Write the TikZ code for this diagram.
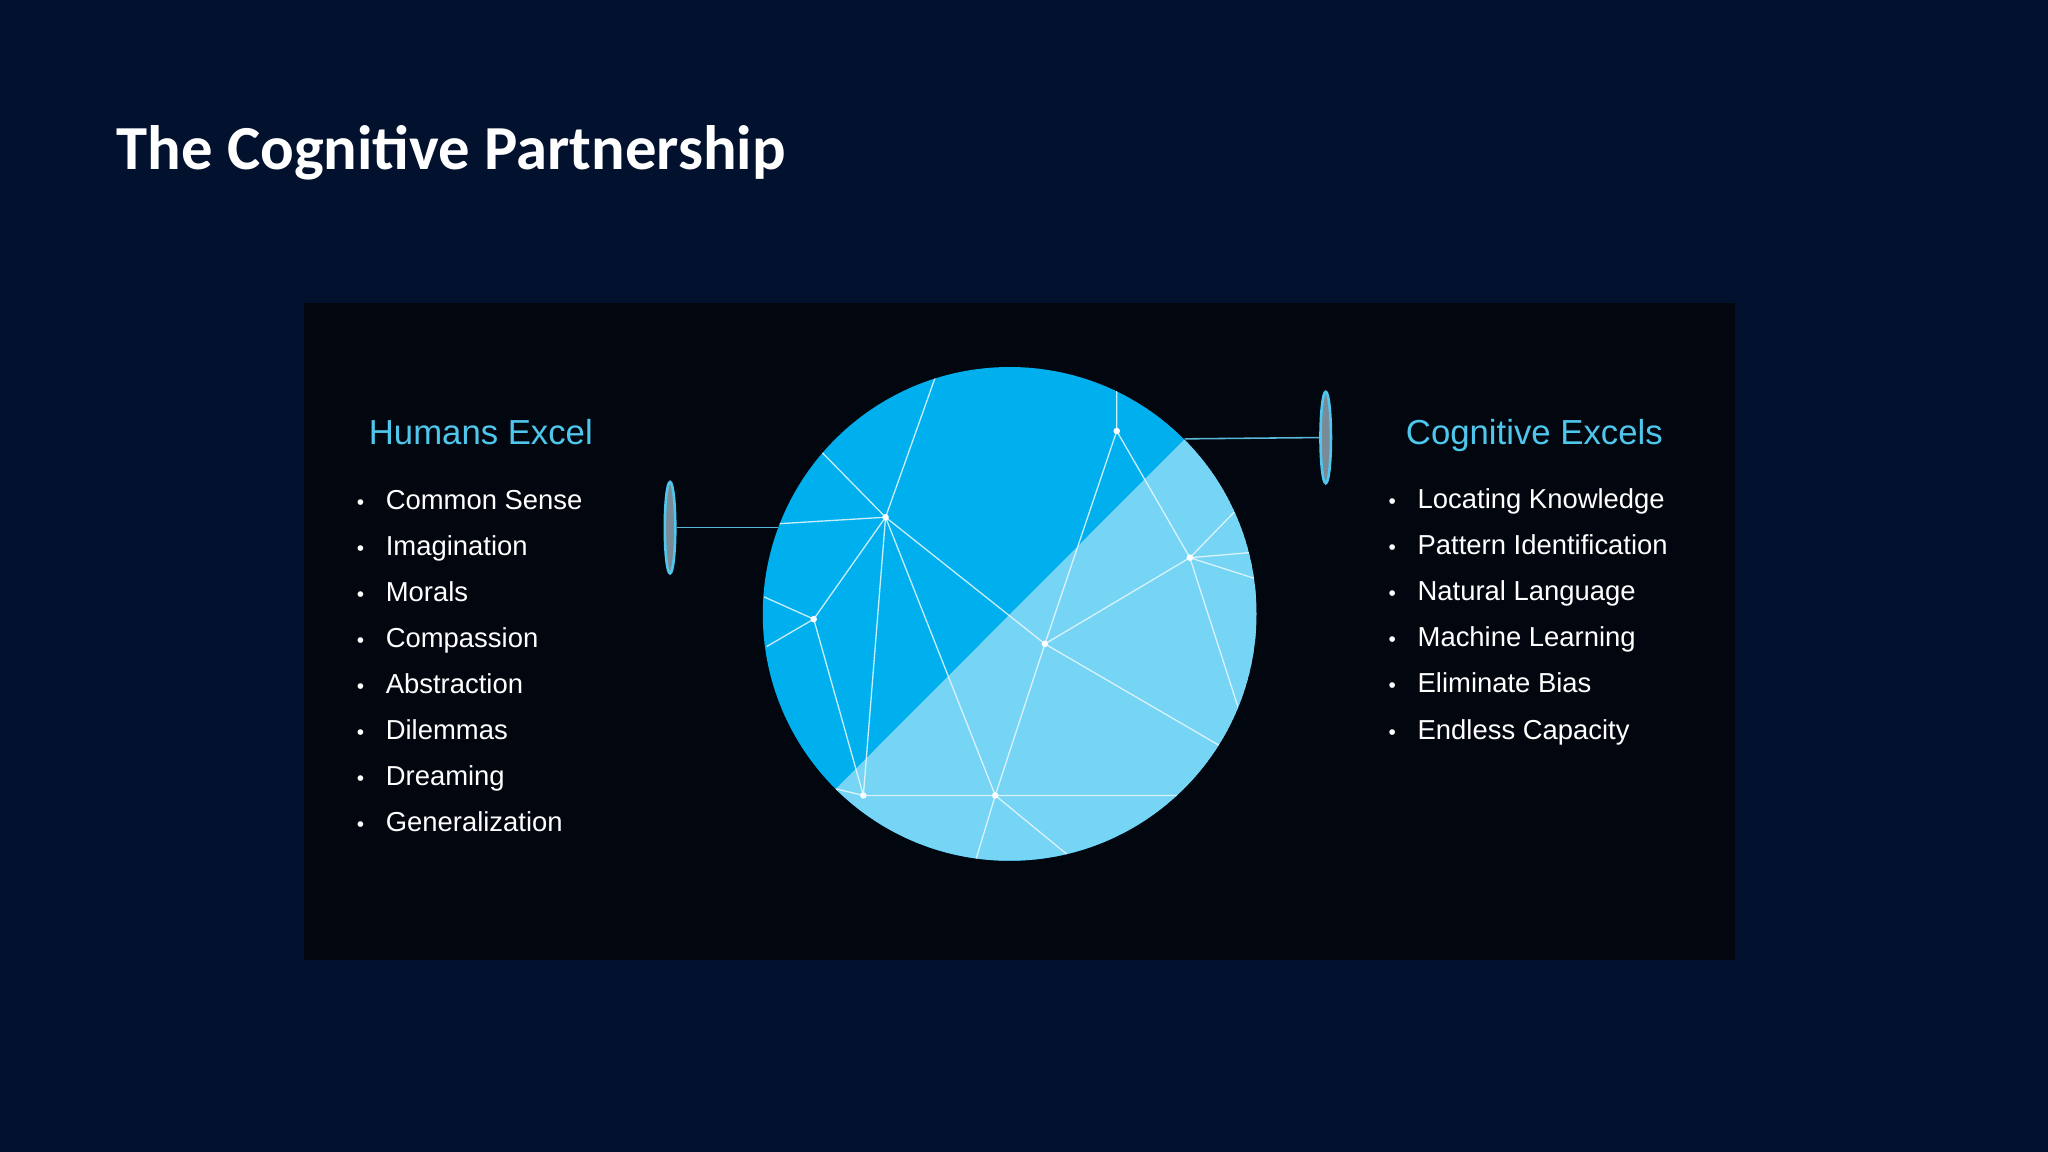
\documentclass[tikz,border=0pt]{standalone}
\usepackage{fontspec}
\setmainfont{Liberation Sans}
\newfontfamily\titlefont{Carlito}
\usetikzlibrary{shapes.geometric}
\definecolor{bgnavy}{HTML}{01112E}
\definecolor{panel}{HTML}{02060F}
\definecolor{darkc}{HTML}{00B0EE}
\definecolor{lightc}{HTML}{76D4F4}
\definecolor{headc}{HTML}{4FC6EC}
\definecolor{pinfill}{HTML}{7A8A96}
\tikzset{
 mesh/.style={draw=white!85!lightc,line width=0.5pt,opacity=0.85},
 dotnode/.style={circle,fill=white,inner sep=0pt,minimum size=2.5pt},
 item/.style={anchor=base west,text=white,font=\fontsize{10.5}{12}\selectfont,inner sep=0pt},
 bull/.style={anchor=base,text=white,font=\fontsize{8}{10}\selectfont,inner sep=0pt},
 head/.style={anchor=base west,text=headc,font=\fontsize{13.3}{15}\selectfont,inner sep=0pt},
 pin/.style={ellipse,draw=headc,line width=1pt,fill=pinfill,minimum width=4pt,minimum height=35pt,inner sep=0pt},
 pinline/.style={draw=headc!80!gray,line width=0.6pt}
}
\begin{document}
\begin{tikzpicture}[x=0.5pt,y=-0.5pt]
\fill[bgnavy] (0,0) rectangle (1568,882);
\useasboundingbox (0,0) rectangle (1568,882);
\node[anchor=base west,text=white,font=\titlefont\bfseries\fontsize{24}{28}\selectfont,inner sep=0pt] (title) at (89,130) {The Cognitive Partnership};
\fill[panel] (233,232) rectangle (1328,735);
% circle
\coordinate (c) at (773,470);
\begin{scope}
\clip (c) circle (189);
\fill[darkc] (c) circle (189);
\fill[lightc] (560,684) -- (987,256) -- (1000,700) -- cycle;
\coordinate (e1) at (716,289); \coordinate (e2) at (628,345); \coordinate (e3) at (596,401);
\coordinate (e4) at (585,457); \coordinate (e5) at (587,495); \coordinate (e6) at (855,290);
\coordinate (e7) at (945,392); \coordinate (e8) at (958,423); \coordinate (e9) at (961,443);
\coordinate (e10) at (950,548); \coordinate (e11) at (934,571); \coordinate (e12) at (905,609);
\coordinate (e13) at (746,662); \coordinate (e14) at (818,655); \coordinate (e15) at (640,604);
\coordinate (n1) at (678,396); \coordinate (n2) at (623,474); \coordinate (n3) at (855,330);
\coordinate (n4) at (911,427); \coordinate (n5) at (800,493); \coordinate (n6) at (661,609);
\coordinate (n7) at (762,609);
\draw[mesh] (e1)--(n1) (e2)--(n1) (e3)--(n1) (n1)--(n2) (n1)--(n6) (n1)--(n7) (n1)--(n5)
 (e4)--(n2)--(e5) (n2)--(n6) (e6)--(n3)--(n5) (n3)--(n4)
 (n4)--(e7) (n4)--(e8) (n4)--(e9) (n4)--(n5) (n4)--(e10)
 (n5)--(e11) (n5)--(n7) (n6)--(n7)--(e12) (n6)--(e15)
 (n7)--(e13) (n7)--(e14);
\end{scope}
\foreach \p in {n1,n2,n3,n4,n5,n6,n7} \node[dotnode] at (\p) {};
% pins
\node[pin] (pl) at (513,404) {};
\node[pin] (pr) at (1015,335) {};
\coordinate (al) at (596,404);
\coordinate (ar) at (907,336);
\draw[pinline] (pl.east) -- (al);
\draw[pinline] (pr.west) -- (ar);
% lists
\node[head] (hl) at (282,340) {Humans Excel};
\node[head] (hr) at (1076,340) {Cognitive Excels};
\foreach \t [count=\i] in {Common Sense,Imagination,Morals,Compassion,Abstraction,Dilemmas,Dreaming,Generalization}{
 \node[bull] at (276,{355+35.2*\i}) {•};
 \node[item] at (295,{355+35.2*\i}) {\t};
}
\foreach \t [count=\i] in {Locating Knowledge,Pattern Identification,Natural Language,Machine Learning,Eliminate Bias,Endless Capacity}{
 \node[bull] at (1066,{354+35.3*\i}) {•};
 \node[item] at (1085,{354+35.3*\i}) {\t};
}
\end{tikzpicture}
\end{document}
